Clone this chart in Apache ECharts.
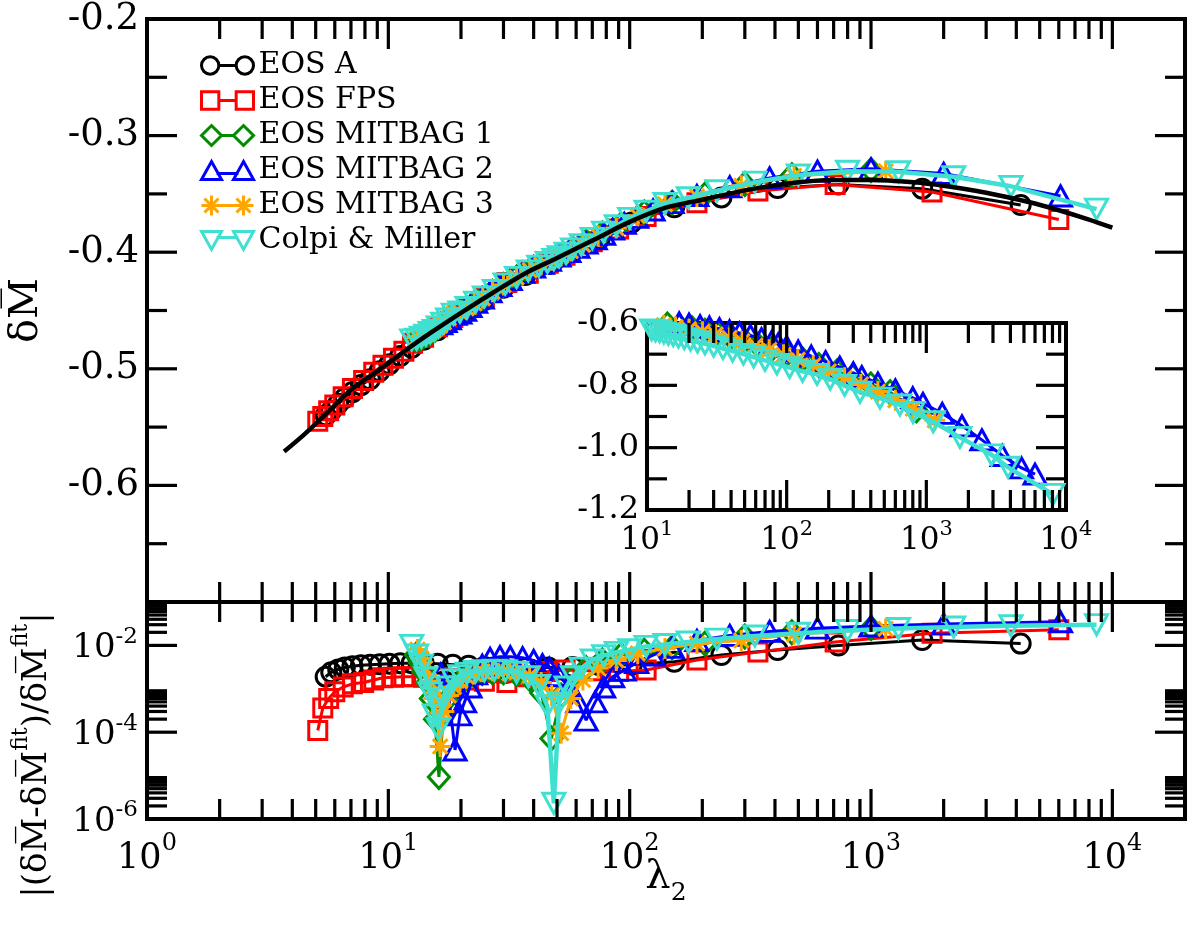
<!DOCTYPE html>
<html>
<head>
<meta charset="utf-8">
<script src="https://cdn.jsdelivr.net/npm/echarts@6/dist/echarts.min.js"></script>
<style>
html, body { margin: 0; padding: 0; background: #fff; }
#chart { width: 1199px; height: 926px; }
</style>
</head>
<body>
<div id="chart"></div>
<script>
// ---- data ----
// fit curve (black line, upper panel)
var lamFit = [3.7, 4.5, 5.5, 7, 9, 12, 15, 20, 27, 37, 50, 70, 100, 140, 200, 300, 450, 700, 1000, 1500, 2000, 3000, 4500, 6000, 8000, 10000];
var valFit = [-0.571, -0.556, -0.539, -0.518, -0.502, -0.483, -0.469, -0.452, -0.435, -0.418, -0.405, -0.390, -0.374, -0.362, -0.355, -0.347, -0.341, -0.338, -0.338, -0.340, -0.343, -0.349, -0.357, -0.364, -0.372, -0.379];

// EOS A
var lamA = [5.5, 5.8, 6.2, 6.6, 7.1, 7.7, 8.4, 9.2, 10.1, 11.2, 12.5, 14, 16, 18.5, 21.5, 25, 30, 37, 46, 58, 75, 102, 153, 240, 410, 733, 1630, 4170];
var upA = [-0.540, -0.536, -0.530, -0.525, -0.520, -0.514, -0.509, -0.502, -0.496, -0.489, -0.482, -0.475, -0.467, -0.458, -0.4495, -0.441, -0.4305, -0.4195, -0.410, -0.399, -0.3885, -0.3745, -0.3615, -0.353, -0.345, -0.342, -0.3455, -0.3595];
var errA = [1.9e-3, 2.4e-3, 2.8e-3, 3.1e-3, 3.3e-3, 3.5e-3, 3.6e-3, 3.7e-3, 3.8e-3, 3.9e-3, 3.9e-3, 3.9e-3, 3.8e-3, 3.6e-3, 3.4e-3, 3.2e-3, 3.0e-3, 3.0e-3, 3.1e-3, 3.2e-3, 3.5e-3, 3.6e-3, 4.2e-3, 6.0e-3, 7.8e-3, 1.0e-2, 1.33e-2, 1.1e-2];

// EOS FPS
var lamFPS = [5.1, 5.35, 5.66, 6.0, 6.5, 7.1, 7.9, 8.7, 9.5, 10.5, 11.6, 12.6, 14, 16, 18.5, 21.5, 25, 31, 38, 46, 54, 70, 90, 117, 190, 340, 710, 1790, 6000];
var upFPS = [-0.545, -0.541, -0.536, -0.531, -0.524, -0.517, -0.510, -0.503, -0.497, -0.491, -0.485, -0.478, -0.473, -0.464, -0.456, -0.4475, -0.439, -0.426, -0.418, -0.4095, -0.4027, -0.391, -0.380, -0.3694, -0.3576, -0.3475, -0.342, -0.3484, -0.372];
var errFPS = [1.1e-4, 3.6e-4, 6e-4, 8.5e-4, 1.1e-3, 1.3e-3, 1.4e-3, 1.6e-3, 1.8e-3, 1.85e-3, 1.9e-3, 1.9e-3, 1.85e-3, 1.8e-3, 1.7e-3, 1.6e-3, 1.5e-3, 1.4e-3, 1.9e-3, 2.5e-3, 2.7e-3, 2.6e-3, 2.5e-3, 2.7e-3, 4.6e-3, 7e-3, 1.2e-2, 1.9e-2, 2.3e-2];

// EOS MITBAG 1
var lamBag1 = [13.0, 13.5, 14.0, 14.5, 15.0, 15.6, 16.2, 16.9, 17.7, 18.6, 19.7, 21, 22.6, 24.5, 27, 30, 34, 38.5, 43, 47.4, 52, 58, 66, 77, 92, 115, 150, 205, 300, 470, 1000];
var upBag1 = [-0.475, -0.474, -0.4722, -0.4705, -0.4687, -0.4665, -0.4637, -0.4606, -0.457, -0.4533, -0.452, -0.4485, -0.444, -0.440, -0.434, -0.428, -0.4217, -0.4156, -0.411, -0.4073, -0.403, -0.397, -0.391, -0.384, -0.3763, -0.366, -0.3575, -0.3506, -0.3415, -0.3339, -0.3296];
var errBag1 = [6e-3, 4e-3, 2.5e-3, 1.4e-3, 6e-4, 2e-4, 9.3e-6, 2.5e-4, 6e-4, 1.0e-3, 1.4e-3, 1.8e-3, 2.1e-3, 2.3e-3, 2.4e-3, 2.4e-3, 2.2e-3, 1.7e-3, 8e-4, 7.2e-5, 7e-4, 1.8e-3, 3e-3, 4.5e-3, 6e-3, 7.5e-3, 9e-3, 1.1e-2, 1.6e-2, 2e-2, 2.5e-2];

// EOS MITBAG 2
var lamBag2 = [16.5, 17.2, 17.9, 18.9, 19.8, 20.7, 21.8, 23, 24.5, 26.4, 29, 32, 36, 40, 43.5, 46.5, 51, 56, 61, 66, 72, 78, 85, 95, 107, 125, 150, 190, 260, 380, 600, 1000, 2000, 6100];
var upBag2 = [-0.4614, -0.4596, -0.4571, -0.4532, -0.4521, -0.4498, -0.4466, -0.443, -0.4393, -0.434, -0.4287, -0.4235, -0.4173, -0.4127, -0.4096, -0.4069, -0.4033, -0.3995, -0.3958, -0.3922, -0.3885, -0.3846, -0.3802, -0.3753, -0.3701, -0.3638, -0.3575, -0.3514, -0.3439, -0.3363, -0.3305, -0.3285, -0.3324, -0.3518];
var errBag2 = [2.2e-3, 1.2e-3, 5e-4, 3.9e-5, 2.5e-4, 5e-4, 1.1e-3, 2.2e-3, 3.5e-3, 5.0e-3, 5.5e-3, 5.5e-3, 5.2e-3, 4.5e-3, 3.6e-3, 3.0e-3, 2.0e-3, 1.1e-3, 5e-4, 1.9e-4, 5e-4, 1.1e-3, 1.9e-3, 2.7e-3, 4e-3, 6e-3, 9e-3, 1.3e-2, 1.7e-2, 2.1e-2, 2.5e-2, 2.8e-2, 3.1e-2, 3.5e-2];

// EOS MITBAG 3
var lamBag3 = [13.2, 13.7, 14.2, 14.8, 15.4, 16.0, 16.4, 17.0, 17.8, 18.7, 19.8, 21.1, 22.7, 24.6, 27, 30, 34, 38.5, 43, 47.5, 52, 57, 64, 74, 88, 108, 140, 190, 290, 480, 1150];
var upBag3 = [-0.4732, -0.4722, -0.4711, -0.4691, -0.467, -0.4645, -0.4629, -0.4601, -0.4565, -0.4525, -0.4515, -0.4481, -0.4439, -0.4394, -0.4339, -0.4281, -0.4216, -0.4155, -0.4107, -0.4069, -0.4032, -0.399, -0.3936, -0.3858, -0.3793, -0.3688, -0.3589, -0.3522, -0.3431, -0.3345, -0.3306];
var errBag3 = [8e-3, 5e-3, 3e-3, 1.5e-3, 6e-4, 2e-4, 4.7e-5, 3e-4, 7e-4, 1.1e-3, 1.5e-3, 1.9e-3, 2.2e-3, 2.5e-3, 2.6e-3, 2.6e-3, 2.4e-3, 2.0e-3, 1.4e-3, 7e-4, 9.5e-5, 6e-4, 1.6e-3, 3e-3, 4.5e-3, 6.5e-3, 8.5e-3, 1.1e-2, 1.3e-2, 1.8e-2, 2.4e-2];

// Colpi & Miller
var lamCM = [12.5, 13.1, 13.7, 14.3, 14.9, 15.5, 16.1, 16.8, 17.6, 18.6, 19.8, 21.2, 23, 25, 27.5, 30.5, 34, 38, 42, 45.6, 48.5, 51, 54.5, 58, 63, 70, 78, 88, 100, 117, 140, 175, 230, 330, 500, 800, 1300, 2200, 3800, 8600];
var upCM = [-0.4752, -0.4747, -0.4729, -0.4712, -0.4689, -0.467, -0.4641, -0.4609, -0.4573, -0.4531, -0.4513, -0.4474, -0.4429, -0.4383, -0.4328, -0.4273, -0.4216, -0.416, -0.412, -0.4088, -0.4062, -0.4039, -0.4009, -0.3972, -0.3936, -0.3882, -0.3828, -0.3772, -0.371, -0.3649, -0.3582, -0.3533, -0.3473, -0.3399, -0.3338, -0.3306, -0.331, -0.3353, -0.3435, -0.3631];
var errCM = [1.0e-2, 6e-3, 3.5e-3, 1.8e-3, 8e-4, 2.5e-4, 1.2e-4, 6e-4, 1.1e-3, 1.6e-3, 2.0e-3, 2.3e-3, 2.5e-3, 2.6e-3, 2.7e-3, 2.6e-3, 2.4e-3, 1.9e-3, 1.2e-3, 4e-4, 2.3e-6, 4.7e-4, 1.1e-3, 1.9e-3, 3e-3, 4.6e-3, 5.8e-3, 6.9e-3, 8e-3, 9.5e-3, 1.05e-2, 1.2e-2, 1.4e-2, 1.65e-2, 1.9e-2, 2.2e-2, 2.45e-2, 2.65e-2, 2.85e-2, 3.0e-2];

// inset panel
var insLamBag1 = [14, 17, 21, 26, 32, 40, 50, 62, 78, 100, 130, 170, 230, 296, 400, 550, 850];
var insBag1 = [-0.605, -0.610, -0.617, -0.625, -0.634, -0.645, -0.657, -0.670, -0.684, -0.700, -0.717, -0.735, -0.755, -0.772, -0.797, -0.822, -0.880];
var insLamBag2 = [17, 20, 24, 28, 33, 39, 46, 55, 66, 78, 87, 100, 121, 150, 190, 240, 300, 345, 450, 600, 800, 946, 1300, 1800, 2500, 3500, 4800, 6000];
var insBag2 = [-0.600, -0.604, -0.609, -0.613, -0.618, -0.625, -0.632, -0.640, -0.650, -0.660, -0.667, -0.676, -0.690, -0.706, -0.724, -0.742, -0.760, -0.772, -0.793, -0.815, -0.840, -0.858, -0.890, -0.930, -0.975, -1.025, -1.065, -1.085];
var insLamBag3 = [13.2, 16, 20, 25, 31, 39, 48, 60, 75, 95, 120, 155, 200, 260, 340, 450, 600, 800, 1150];
var insBag3 = [-0.607, -0.613, -0.620, -0.628, -0.637, -0.648, -0.659, -0.672, -0.686, -0.702, -0.718, -0.736, -0.755, -0.776, -0.797, -0.820, -0.848, -0.875, -0.912];
var insLamCM = [10.8, 11.5, 12.3, 13.2, 14.2, 15.4, 16.8, 18.5, 20.5, 23, 26, 30, 35, 41, 49, 58, 70, 85, 105, 130, 165, 205, 260, 335, 466, 646, 803, 1120, 1740, 2930, 3850, 8060];
var insCM = [-0.622, -0.625, -0.628, -0.632, -0.636, -0.640, -0.645, -0.650, -0.655, -0.661, -0.667, -0.674, -0.682, -0.690, -0.700, -0.709, -0.720, -0.731, -0.743, -0.755, -0.765, -0.780, -0.800, -0.822, -0.841, -0.863, -0.887, -0.917, -0.967, -1.023, -1.063, -1.150];

// axis ticks
var mant = [2, 3, 4, 5, 6, 7, 8, 9];
var mainXMajor = [1, 10, 100, 1000, 10000];
var mainXDecades = [1, 10, 100, 1000];
var mainYMajor = [-0.6, -0.5, -0.4, -0.3];
var mainYMinor = [-0.65, -0.55, -0.45, -0.35, -0.25];
var lowYMajor = [1e-6, 1e-4, 1e-2];
var insXMajor = [100, 1000];
var insXDecades = [10, 100, 1000];
var insYMajor = [-0.8, -1.0];
var insYMinor = [-0.7, -0.9, -1.1];

var names = ['EOS A', 'EOS FPS', 'EOS MITBAG 1', 'EOS MITBAG 2', 'EOS MITBAG 3', 'Colpi & Miller'];
var colors = ['#000000', '#ff0000', '#008b00', '#0000ff', '#ffa500', '#40e0d0'];

// ---- helpers ----
var FONT = 'DejaVu Serif';
var STAR = 'path://M10,0L10,20M0,10L20,10M3,3L17,17M3,17L17,3';
var symbols = [
  {symbol: 'circle', size: 19, rotate: 0},
  {symbol: 'rect', size: 18, rotate: 0},
  {symbol: 'diamond', size: [21, 23], rotate: 0},
  {symbol: 'triangle', size: [22, 20], rotate: 0},
  {symbol: STAR, size: 21, rotate: 0},
  {symbol: 'triangle', size: [22, 20], rotate: 180}
];
var legendIcons = [
  'path://M2,10A8,8,0,1,1,18,10A8,8,0,1,1,2,10ZM18,10L34,10M34,10A8,8,0,1,1,50,10A8,8,0,1,1,34,10Z',
  'path://M2,2L18,2L18,18L2,18ZM18,10L34,10M34,2L50,2L50,18L34,18Z',
  'path://M10,0L20,10L10,20L0,10ZM20,10L32,10M42,0L52,10L42,20L32,10Z',
  'path://M10,1L20,19L0,19ZM15,13L37,13M42,1L52,19L32,19Z',
  'path://M10,0L10,20M0,10L20,10M3,3L17,17M3,17L17,3M20,10L32,10M42,0L42,20M32,10L52,10M35,3L49,17M35,17L49,3',
  'path://M0,1L20,1L10,19ZM15,7L37,7M32,1L52,1L42,19Z'
];

function pairs(xs, ys) {
  return xs.map(function (x, i) { return [x, ys[i]]; });
}
function times(list, fac) {
  var out = [];
  list.forEach(function (d) { fac.forEach(function (m) { out.push(d * m); }); });
  return out;
}

function dataSeries(k, xs, ys, grid) {
  var s = symbols[k];
  return {
    type: 'line', name: names[k], xAxisIndex: grid, yAxisIndex: grid,
    data: pairs(xs, ys),
    symbol: s.symbol, symbolSize: s.size, symbolRotate: s.rotate,
    showAllSymbol: true, clip: true, z: 3 + k * 0.1,
    lineStyle: {color: colors[k], width: k === 5 ? 4.5 : 3},
    itemStyle: {color: 'rgba(0,0,0,0)', borderColor: colors[k], borderWidth: 3},
    emphasis: {disabled: true}, animation: false
  };
}

function tickSeries(grid, ext, xMaj, xMin, yMaj, yMin) {
  var items = [];
  xMaj.forEach(function (v) { items.push([v, ext.y0, 0, 30]); });
  xMin.forEach(function (v) { items.push([v, ext.y0, 0, 20]); });
  yMaj.forEach(function (v) { items.push([ext.x0, v, 1, 30]); });
  yMin.forEach(function (v) { items.push([ext.x0, v, 1, 20]); });
  return {
    type: 'custom', xAxisIndex: grid, yAxisIndex: grid, silent: true, z: 6,
    data: items, animation: false,
    renderItem: function (params, api) {
      var kind = api.value(2), len = api.value(3);
      var st = {stroke: '#000', lineWidth: 3.2};
      var a, b;
      if (kind === 0) {
        a = api.coord([api.value(0), ext.y0]);
        b = api.coord([api.value(0), ext.y1]);
        return {type: 'group', children: [
          {type: 'line', shape: {x1: a[0], y1: a[1], x2: a[0], y2: a[1] - len}, style: st},
          {type: 'line', shape: {x1: b[0], y1: b[1], x2: b[0], y2: b[1] + len}, style: st}
        ]};
      }
      a = api.coord([ext.x0, api.value(1)]);
      b = api.coord([ext.x1, api.value(1)]);
      return {type: 'group', children: [
        {type: 'line', shape: {x1: a[0], y1: a[1], x2: a[0] + len, y2: a[1]}, style: st},
        {type: 'line', shape: {x1: b[0], y1: b[1], x2: b[0] - len, y2: b[1]}, style: st}
      ]};
    }
  };
}

function powLabel(v) {
  var l = Math.log(v) / Math.LN10, e = Math.round(l);
  if (Math.abs(l - e) > 1e-6) return '';
  return '{b|10}{s|' + e + '}';
}
function powRich(big, small, lh) {
  return {
    b: {fontFamily: FONT, fontSize: big, color: '#000', lineHeight: lh, verticalAlign: 'bottom'},
    s: {fontFamily: FONT, fontSize: small, color: '#000', lineHeight: small, verticalAlign: 'top'}
  };
}

var gridBox = {show: true, borderColor: '#000', borderWidth: 4, backgroundColor: 'rgba(0,0,0,0)', outerBoundsMode: 'none', containLabel: false};

var upLists = [[lamA, upA], [lamFPS, upFPS], [lamBag1, upBag1], [lamBag2, upBag2], [lamBag3, upBag3], [lamCM, upCM]];
var errLists = [[lamA, errA], [lamFPS, errFPS], [lamBag1, errBag1], [lamBag2, errBag2], [lamBag3, errBag3], [lamCM, errCM]];
var insLists = [[insLamBag1, insBag1, 2], [insLamBag3, insBag3, 4], [insLamBag2, insBag2, 3], [insLamCM, insCM, 5]];

var series = [];
upLists.forEach(function (d, k) { series.push(dataSeries(k, d[0], d[1], 0)); });
series.push({
  type: 'line', name: 'fit', xAxisIndex: 0, yAxisIndex: 0, data: pairs(lamFit, valFit),
  symbol: 'none', smooth: 0.3, z: 4, lineStyle: {color: '#000', width: 4.5},
  emphasis: {disabled: true}, animation: false
});
errLists.forEach(function (d, k) { series.push(dataSeries(k, d[0], d[1], 1)); });
insLists.forEach(function (d) { series.push(dataSeries(d[2], d[0], d[1], 2)); });

series.push(tickSeries(0, {x0: 1, x1: 20000, y0: -0.7, y1: -0.2}, mainXMajor, times(mainXDecades, mant), mainYMajor, mainYMinor));
series.push(tickSeries(1, {x0: 1, x1: 20000, y0: 1e-6, y1: 0.1}, mainXMajor, times(mainXDecades, mant), lowYMajor, times(lowYMajor, mant)));
series.push(tickSeries(2, {x0: 10, x1: 10000, y0: -1.2, y1: -0.6}, insXMajor, times(insXDecades, mant), insYMajor, insYMinor));

var hidden = {axisLine: {show: false}, axisTick: {show: false}, splitLine: {show: false}};

var option = {
  backgroundColor: '#fff',
  animation: false,
  textStyle: {fontFamily: FONT, color: '#000'},
  grid: [
    Object.assign({left: 147, top: 19, width: 1038, height: 583}, gridBox),
    Object.assign({left: 147, top: 602, width: 1038, height: 217}, gridBox),
    Object.assign({left: 647, top: 323, width: 419, height: 187}, gridBox, {backgroundColor: '#fff', z: 1})
  ],
  xAxis: [
    Object.assign({type: 'log', gridIndex: 0, min: 1, max: 20000, axisLabel: {show: false}}, hidden),
    Object.assign({type: 'log', gridIndex: 1, min: 1, max: 20000,
      name: '{l|\u03bb}{d|2}', nameLocation: 'middle', nameGap: 39, nameMoveOverlap: false,
      nameTextStyle: {rich: {
        l: {fontFamily: FONT, fontSize: 40, color: '#000', lineHeight: 48, verticalAlign: 'top'},
        d: {fontFamily: FONT, fontSize: 25, color: '#000', lineHeight: 14, padding: [47, 0, 0, 0], verticalAlign: 'bottom'}
      }},
      axisLabel: {margin: 13, formatter: powLabel, rich: powRich(35, 24, 44)}}, hidden),
    Object.assign({type: 'log', gridIndex: 2, min: 10, max: 10000,
      axisLabel: {margin: 9, formatter: powLabel, rich: powRich(31, 21, 37)}}, hidden)
  ],
  yAxis: [
    Object.assign({type: 'value', gridIndex: 0, min: -0.7, max: -0.2, interval: 0.1,
      name: '{m|\u03b4M\u0305}', nameLocation: 'middle', nameRotate: 90, nameGap: 100, nameMoveOverlap: false,
      nameTextStyle: {rich: {m: {fontFamily: FONT, fontSize: 40, color: '#000'}}},
      axisLabel: {margin: 8, fontFamily: FONT, fontSize: 37, color: '#000',
        formatter: function (v) { return v < -0.65 ? '' : v.toFixed(1); }}}, hidden),
    Object.assign({type: 'log', gridIndex: 1, min: 1e-6, max: 0.1,
      axisLabel: {margin: 9, rich: powRich(34, 23, 40), formatter: function (v) {
        var e = Math.round(Math.log(v) / Math.LN10);
        return (e % 2 === 0 && e <= -2) ? powLabel(v) : '';
      }}}, hidden),
    Object.assign({type: 'value', gridIndex: 2, min: -1.2, max: -0.6, interval: 0.2,
      axisLabel: {margin: 8, fontFamily: FONT, fontSize: 32, color: '#000',
        formatter: function (v) { return v.toFixed(1); }}}, hidden)
  ],
  legend: {
    left: 195, top: 43, orient: 'vertical', itemWidth: 52, itemHeight: 20, itemGap: 0,
    selectedMode: false,
    textStyle: {fontFamily: FONT, fontSize: 30, color: '#000', lineHeight: 35},
    data: names.map(function (n, k) {
      return {name: n, icon: legendIcons[k],
        itemStyle: {color: 'rgba(0,0,0,0)', borderColor: colors[k], borderWidth: 3}};
    })
  },
  graphic: [{
    type: 'text', x: 32, y: 755, rotation: Math.PI / 2, z: 10,
    style: {
      text: '{n||(\u03b4M\u0305-\u03b4M\u0305}{s|fit}{n|)/\u03b4M\u0305}{s|fit}{n||}',
      align: 'center', verticalAlign: 'middle',
      rich: {
        n: {fontFamily: FONT, fontSize: 34, fill: '#000', lineHeight: 44, verticalAlign: 'bottom'},
        s: {fontFamily: FONT, fontSize: 22, fill: '#000', lineHeight: 20, verticalAlign: 'top'}
      }
    }
  }],
  series: series
};

var chart = echarts.init(document.getElementById('chart'));
chart.setOption(option);
</script>
</body>
</html>
